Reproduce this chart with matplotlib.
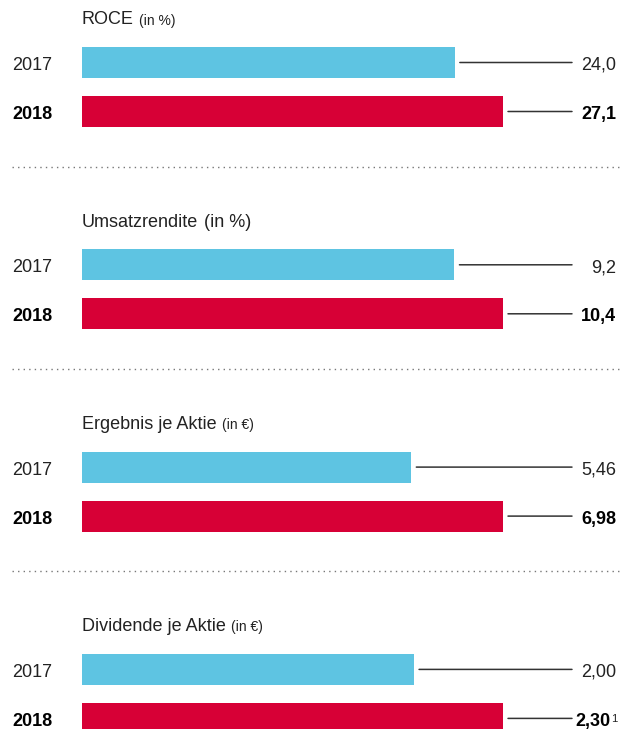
import matplotlib.pyplot as plt
import matplotlib.transforms as mtransforms

plt.rcParams['font.family'] = ['Liberation Sans', 'DejaVu Sans']

# data
titles = ['ROCE', 'Umsatzrendite', 'Ergebnis je Aktie', 'Dividende je Aktie']
units = ['(in %)', '(in %)', '(in €)', '(in €)']
years = ['2017', '2018']
values_2017 = [24.0, 9.2, 5.46, 2.00]
values_2018 = [27.1, 10.4, 6.98, 2.30]
labels_2017 = ['24,0', '9,2', '5,46', '2,00']
labels_2018 = ['27,1', '10,4', '6,98', '2,30']
footnotes_2018 = ['', '', '', '1']

# where each panel's value axis starts (the dividend panel in the original is not zero based)
axis_start = [0, 0, 0, 0.88]
unit_size = [10, 13, 10, 10]

blue = '#5EC4E2'
red = '#D70036'
W, H = 622, 729

fig = plt.figure(figsize=(W / 100, H / 100), dpi=100)

panel_h = 202.3
rows = [62.5, 111.5]   # bar centres inside a panel (pixels from panel top)

for i in range(4):
    top = panel_h * i
    ax = fig.add_axes([82 / W, 1 - (top + panel_h) / H, 421 / W, panel_h / H])
    ax.set_xlim(axis_start[i], values_2018[i])
    ax.set_ylim(panel_h, 0)
    ax.axis('off')

    vals = [values_2017[i], values_2018[i]]
    ax.barh(rows, vals, height=31, color=[blue, red])

    tr = mtransforms.blended_transform_factory(fig.transFigure, ax.transData)
    tr_ax = mtransforms.blended_transform_factory(ax.transAxes, ax.transData)

    # title + unit
    t = ax.text(0, 24.5, titles[i], transform=tr_ax, fontsize=13, color='#222',
                ha='left', va='baseline')
    ax.annotate(units[i], xy=(1, 24.5), xycoords=(t, ax.transData),
                xytext=(4, 0), textcoords='offset points',
                fontsize=unit_size[i], color='#222', ha='left', va='baseline')

    labels = [labels_2017[i], labels_2018[i]]
    for j in range(2):
        bold = 'bold' if j == 1 else 'normal'
        col = 'black' if j == 1 else '#222'
        ax.text(12 / W, rows[j] + 7.5, years[j], transform=tr, fontsize=13,
                fontweight=bold, color=col, ha='left', va='baseline')

        # connector line from bar end to value
        ax.annotate('', xy=(vals[j], rows[j]), xycoords='data',
                    xytext=(572 / W, rows[j]), textcoords=('figure fraction', 'data'),
                    arrowprops=dict(arrowstyle='-', shrinkA=0, shrinkB=3.6,
                                    color='#333', lw=1.1))

        fn = footnotes_2018[i] if j == 1 else ''
        xr = 610 if fn else 616
        vt = ax.text(xr / W, rows[j] + 7.5, labels[j], transform=tr, fontsize=13,
                     fontweight=bold, color=col, ha='right', va='baseline')
        if fn:
            ax.annotate(fn, xy=(1, 0.92), xycoords=vt, xytext=(1, 0),
                        textcoords='offset points', fontsize=8, color='#222',
                        ha='left', va='top')

    if i < 3:
        ax.plot([12 / W, 619 / W], [166.7, 166.7], transform=tr, clip_on=False,
                color='#777', lw=1, linestyle=(0, (1, 3)))

fig.savefig('out.png', dpi=100)
